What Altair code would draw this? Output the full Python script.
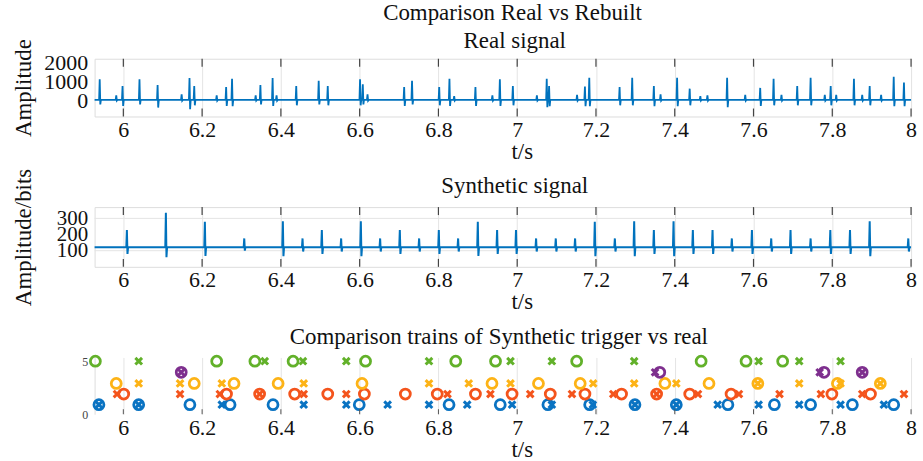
import altair as alt
import pandas as pd

FONT = "Liberation Serif"
X_DOMAIN = [5.927, 8.0]
x_ticks = [6.0, 6.2, 6.4, 6.6, 6.8, 7.0, 7.2, 7.4, 7.6, 7.8, 8.0]

# ---------------- Real signal (spike times, peak and dip amplitudes) ----------------
real_t = [5.940, 5.982, 5.998, 6.041, 6.087, 6.148, 6.168, 6.180, 6.237, 6.261,
          6.276, 6.336, 6.348, 6.379, 6.389, 6.439, 6.496, 6.519, 6.601, 6.608,
          6.620, 6.713, 6.733, 6.802, 6.828, 6.840, 6.894, 6.937, 6.956, 6.989,
          7.050, 7.075, 7.081, 7.152, 7.172, 7.183, 7.260, 7.292, 7.347, 7.364,
          7.406, 7.438, 7.465, 7.483, 7.533, 7.579, 7.617, 7.651, 7.671, 7.711,
          7.745, 7.781, 7.796, 7.810, 7.855, 7.876, 7.895, 7.924, 7.956, 7.982]
real_peak = [1120, 280, 770, 1120, 825, 330, 1190, 770, 280, 720,
             1150, 280, 825, 1190, 280, 770, 1050, 770, 1120, 860,
             330, 720, 1050, 720, 1150, 230, 720, 280, 1120, 770,
             280, 1150, 770, 300, 740, 1200, 720, 1200, 770, 330,
             1200, 630, 230, 280, 1200, 300, 670, 1150, 300, 770,
             1200, 300, 770, 300, 1150, 300, 770, 300, 1260, 950]
real_dip = [-200, 0, -280, -200, -370, 0, -450, -250, 0, -280,
            -300, 0, -200, -280, 0, -250, -200, -250, -250, -200,
            0, -280, -200, -250, -280, 0, -280, 0, -280, -250,
            0, -350, -300, 0, -300, -300, -250, -250, -300, 0,
            -300, -250, 0, 0, -350, 0, -280, -250, 0, -250,
            -250, 0, -250, 0, -250, 0, -250, 0, -300, -300]
REAL_BASE = 40

# ---------------- Synthetic signal ----------------
synth_t = [6.009, 6.108, 6.207, 6.307, 6.405, 6.455, 6.504, 6.553, 6.603, 6.652,
           6.702, 6.751, 6.801, 6.850, 6.900, 6.949, 6.997, 7.048, 7.098, 7.147,
           7.197, 7.248, 7.297, 7.347, 7.397, 7.446, 7.496, 7.545, 7.596, 7.645,
           7.694, 7.745, 7.795, 7.845, 7.895, 7.993]
synth_peak = [228, 335, 279, 176, 283, 176, 228, 176, 283, 176,
              228, 176, 228, 176, 279, 228, 228, 176, 176, 176,
              279, 176, 283, 228, 283, 228, 228, 176, 228, 176,
              228, 176, 228, 228, 283, 176]
synth_dip = [80, 60, 68, 100, 66, 95, 80, 95, 66, 95,
             80, 95, 80, 95, 68, 80, 80, 95, 95, 95,
             66, 95, 66, 80, 66, 80, 80, 95, 80, 95,
             80, 95, 80, 80, 66, 95]
SYNTH_BASE = 121

# ---------------- Trigger trains (circles = synthetic, crosses = real) ----------------
series_names = ["blue", "red", "yellow", "purple", "green"]
series_colors = ["#0A73C2", "#F4541C", "#FDB316", "#7E2F8E", "#62B12A"]
series_level = [0.9, 1.9, 2.9, 3.95, 5.0]

blue_circ = [5.938, 6.039, 6.169, 6.271, 6.380, 6.599, 6.827, 6.957, 7.078, 7.184,
             7.299, 7.404, 7.535, 7.653, 7.745, 7.851, 7.956]
blue_cross = [5.938, 6.039, 6.250, 6.458, 6.566, 6.671, 6.776, 6.873, 6.987, 7.088,
              7.192, 7.299, 7.404, 7.509, 7.613, 7.716, 7.821, 7.931]
red_circ = [6.001, 6.262, 6.346, 6.435, 6.519, 6.612, 6.716, 6.797, 6.894, 6.987,
            7.084, 7.172, 7.265, 7.354, 7.438, 7.543, 7.799, 7.897]
red_cross = [5.984, 6.144, 6.245, 6.346, 6.458, 6.566, 6.823, 6.932, 7.033, 7.139,
             7.244, 7.354, 7.459, 7.563, 7.666, 7.771, 7.876, 7.982]
yellow_circ = [5.982, 6.180, 6.281, 6.393, 6.606, 6.936, 7.054, 7.160, 7.375, 7.487,
               7.611, 7.813, 7.922]
yellow_cross = [6.039, 6.144, 6.250, 6.458, 6.776, 6.877, 6.983, 7.193, 7.297, 7.404,
                7.611, 7.716, 7.821, 7.922]
purple_circ = [6.147, 7.362, 7.779, 7.876]
purple_cross = [6.147, 7.350, 7.768, 7.876]
green_circ = [5.929, 6.237, 6.334, 6.431, 6.615, 6.844, 6.945, 7.151, 7.467, 7.581,
              7.674]
green_cross = [6.039, 6.359, 6.456, 6.566, 6.776, 6.983, 7.088, 7.297, 7.613, 7.716,
               7.821]

circ_lists = [blue_circ, red_circ, yellow_circ, purple_circ, green_circ]
cross_lists = [blue_cross, red_cross, yellow_cross, purple_cross, green_cross]


def spike_table(ts, peaks, dips, base, w):
    rows = [(X_DOMAIN[0], base)]
    for t, p, d in zip(ts, peaks, dips):
        rows += [(t - w, base), (t, p), (t + w, d), (t + 2 * w, base)]
    rows.append((X_DOMAIN[1], base))
    return pd.DataFrame(rows, columns=["t", "v"])


real_df = spike_table(real_t, real_peak, real_dip, REAL_BASE, 0.0015)
synth_df = spike_table(synth_t, synth_peak, synth_dip, SYNTH_BASE, 0.0015)

circ_rows, cross_rows = [], []
for name, lvl, cl, xl in zip(series_names, series_level, circ_lists, cross_lists):
    circ_rows += [{"t": t, "y": lvl, "s": name} for t in cl]
    cross_rows += [{"t": t, "y": lvl, "s": name} for t in xl]
circ_df = pd.DataFrame(circ_rows)
cross_df = pd.DataFrame(cross_rows)
ticks_df = pd.DataFrame({"t": x_ticks})

W = 820
H_TOP, H_MID, H_BOT = 58, 60, 57
GRID = "#e4e4e4"


def x_enc():
    return alt.X("t:Q", scale=alt.Scale(domain=X_DOMAIN, nice=False, zero=False),
                 axis=alt.Axis(values=x_ticks, format="~g", labelFontSize=22, labelFont=FONT,
                               labelColor="#111", labelPadding=3, labelFlush=False,
                               labelOverlap=False, ticks=False, domain=False, grid=True,
                               gridColor=GRID, title="t/s", titleFont=FONT, titleFontSize=23,
                               titleFontWeight="normal", titleColor="#111",
                               titleX=W / 2 + 19, titlePadding=0))


def ptitle(text, dx, offset):
    return alt.TitleParams(text, font=FONT, fontSize=23, fontWeight="normal", color="#111",
                           offset=offset, dx=dx)


def y_axis(values, title, h, size):
    return alt.Axis(values=values, format="d", labelFontSize=size, labelFont=FONT,
                    labelColor="#111", labelPadding=7, labelOverlap=False,
                    ticks=False, domain=False, grid=False, title=title,
                    titleFont=FONT, titleFontSize=23, titleFontWeight="normal",
                    titleColor="#111", titleX=-71, titleY=h / 2, titleAngle=-90,
                    titleAlign="center", titleBaseline="middle")


def inward_ticks(h, length, color):
    top = alt.Chart(ticks_df).mark_rule(color=color, strokeWidth=1.2).encode(
        x="t:Q", y=alt.value(0), y2=alt.value(length))
    bot = alt.Chart(ticks_df).mark_rule(color=color, strokeWidth=1.2).encode(
        x="t:Q", y=alt.value(h), y2=alt.value(h - length))
    return top, bot


# ---- top panel
top_y_axis = y_axis([0, 1000, 2000], "Amplitude", H_TOP, 22)
real_line = alt.Chart(real_df).mark_line(color="#0072BD", strokeWidth=1.8).encode(
    x=x_enc(),
    y=alt.Y("v:Q", scale=alt.Scale(domain=[-840, 2210], nice=False, zero=False),
            axis=top_y_axis))
t1, b1 = inward_ticks(H_TOP, 8, "#444")
top = alt.layer(real_line, t1, b1).properties(
    width=W, height=H_TOP, title=ptitle("Real signal", 12, -14))

# ---- middle panel
mid_y_axis = y_axis([100, 200, 300], "Amplitude/bits", H_MID, 21)
hgrid_df = pd.DataFrame({"v": [100, 300]})
hgrid = alt.Chart(hgrid_df).mark_rule(color=GRID, strokeWidth=1).encode(
    y=alt.Y("v:Q", axis=mid_y_axis))
synth_line = alt.Chart(synth_df).mark_line(color="#0072BD", strokeWidth=2).encode(
    x=x_enc(),
    y=alt.Y("v:Q", scale=alt.Scale(domain=[0, 370], nice=False, zero=False),
            axis=mid_y_axis))
t2, b2 = inward_ticks(H_MID, 8, "#444")
mid = alt.layer(hgrid, synth_line, t2, b2).properties(
    width=W, height=H_MID, title=ptitle("Synthetic signal", 12, -30))

# ---- bottom panel
color_scale = alt.Scale(domain=series_names, range=series_colors)
y_bot = alt.Y("y:Q", scale=alt.Scale(domain=[0, 5.35], nice=False, zero=False),
              axis=alt.Axis(values=[0, 5], format="d", labelFontSize=12, labelFont=FONT,
                            labelColor="#444", labelPadding=7, ticks=False, domain=True,
                            domainColor="#dddddd", grid=False, title=None))
circles = alt.Chart(circ_df).mark_point(shape="circle", filled=False, size=100,
                                        strokeWidth=2.8, opacity=1).encode(
    x=x_enc(), y=y_bot, color=alt.Color("s:N", scale=color_scale, legend=None))
crosses = alt.Chart(cross_df).mark_point(shape="M-1,-1L1,1M-1,1L1,-1", filled=False,
                                         size=45, strokeWidth=3, opacity=1).encode(
    x="t:Q", y="y:Q", color=alt.Color("s:N", scale=color_scale, legend=None))
b3 = alt.Chart(ticks_df).mark_rule(color="#555", strokeWidth=1).encode(
    x="t:Q", y=alt.value(H_BOT), y2=alt.value(H_BOT - 5))
bot = alt.layer(circles, crosses, b3).properties(
    width=W, height=H_BOT,
    title=ptitle("Comparison trains of Synthetic trigger vs real", -4, 2),
    view=alt.ViewBackground(stroke=None))

chart = alt.vconcat(top, mid, bot, spacing=91, bounds="flush").properties(
    title=alt.TitleParams("Comparison Real vs Rebuilt", font=FONT, fontSize=23,
                          fontWeight="normal", color="#111", anchor="middle", offset=4,
                          dx=48),
    padding={"left": 12, "top": 1, "right": 6, "bottom": 0},
).configure_view(stroke="#8a8a8a", strokeWidth=1).configure(background="white")

chart.save("out.html", embed_options={"renderer": "svg", "actions": False})
